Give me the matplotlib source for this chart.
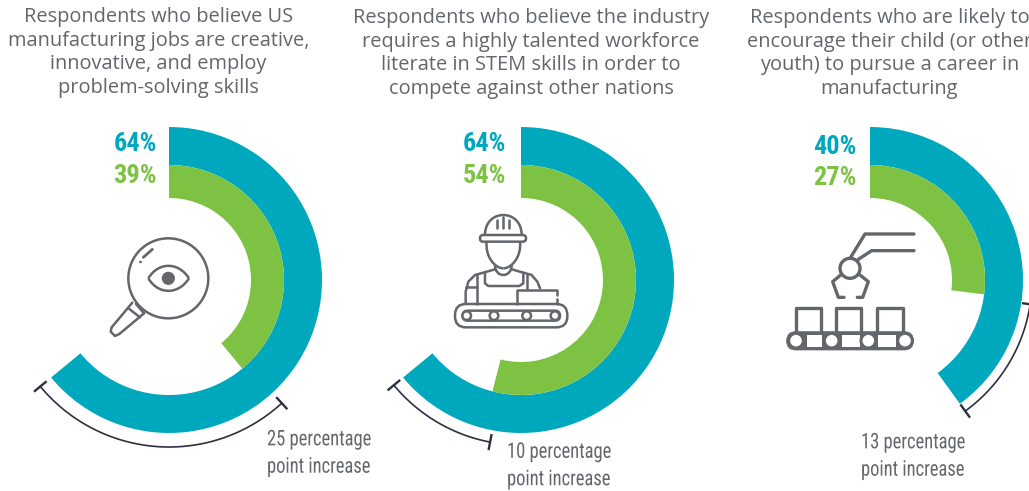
import numpy as np
import matplotlib
matplotlib.use("Agg")
import matplotlib.pyplot as plt
from matplotlib.patches import Circle, FancyBboxPatch, Rectangle, PathPatch
from matplotlib.patheffects import AbstractPathEffect
from matplotlib.path import Path
from matplotlib.transforms import Affine2D

W, H = 1029, 491
titles = [
    "Respondents who believe US\nmanufacturing jobs are creative,\ninnovative, and employ\nproblem-solving skills",
    "Respondents who believe the industry\nrequires a highly talented workforce\nliterate in STEM skills in order to\ncompete against other nations",
    "Respondents who are likely to\nencourage their child (or other\nyouth) to pursue a career in\nmanufacturing",
]
teal_values = [64, 64, 40]
green_values = [39, 54, 27]
bracket_start = [38.2, 53, 27.4]
increase_labels = ["25 percentage\npoint increase", "10 percentage\npoint increase", "13 percentage\npoint increase"]

TEAL, GREEN, GREY, NAVY = "#00a8bd", "#7dc242", "#63666a", "#2c3040"
centers_x = [169, 521, 870]
cy = 280
title_x = [158.5, 531, 889.5]
title_y = [52.5, 53.5, 53.5]
pct_x = [157, 506, 857]
pct_y = [(144, 176), (144, 176), (147, 178)]
inc_xy = [(267, 453.5), (507, 466), (861, 456.5)]
bracket_r = [167, 165, 162]
EXT = 175


class Squeeze(AbstractPathEffect):
    """Narrows a real text horizontally about a pixel column, for a condensed face."""
    def __init__(self, x0, sx):
        super().__init__()
        self.x0, self.sx = x0, sx

    def draw_path(self, renderer, gc, tpath, affine, rgbFace=None):
        t = affine + Affine2D().translate(-self.x0, 0).scale(self.sx, 1).translate(self.x0, 0)
        renderer.draw_path(gc, tpath, t, rgbFace)


fig = plt.figure(figsize=(W / 100, H / 100), dpi=100, facecolor="white")
ax0 = fig.add_axes([0, 0, 1, 1])
ax0.set_xlim(0, W); ax0.set_ylim(H, 0); ax0.axis("off")

OPEN = ["Open Sans", "DejaVu Sans"]
NARROW = ["Roboto Condensed", "DejaVu Sans"]

for i, cx in enumerate(centers_x):
    ax = fig.add_axes([(cx - EXT) / W, 1 - (cy + EXT) / H, 2 * EXT / W, 2 * EXT / H],
                      projection="polar")
    ax.set_theta_zero_location("N"); ax.set_theta_direction(-1)
    ax.patch.set_visible(False); ax.axis("off")
    ax.set_ylim(0, EXT)
    ax.bar([0], [38], width=[np.deg2rad(teal_values[i] * 3.6)], bottom=115, align="edge",
           color=TEAL, linewidth=0)
    ax.bar([0], [33], width=[np.deg2rad(green_values[i] * 3.6)], bottom=82, align="edge",
           color=GREEN, linewidth=0)
    th0 = np.deg2rad(bracket_start[i] * 3.6)
    th1 = np.deg2rad(teal_values[i] * 3.6)
    r = bracket_r[i]
    ths = np.linspace(th0, th1, 120)
    ax.plot(ths, np.full_like(ths, r), color=NAVY, lw=1.2, clip_on=False)
    for t in (th0, th1):
        ax.plot([t, t], [r - 7, r + 7], color=NAVY, lw=1.7, clip_on=False)

    ax0.text(title_x[i], title_y[i], titles[i], ha="center", va="center", multialignment="center",
             fontsize=14.45, color=GREY, family=OPEN, linespacing=1.25, zorder=5)
    ax0.text(pct_x[i], pct_y[i][0], f"{teal_values[i]}%", ha="right", va="center", fontsize=19,
             fontweight="bold", color=TEAL, family=NARROW, zorder=5)
    ax0.text(pct_x[i], pct_y[i][1], f"{green_values[i]}%", ha="right", va="center", fontsize=19,
             fontweight="bold", color=GREEN, family=NARROW, zorder=5)
    ax0.text(inc_xy[i][0], inc_xy[i][1], increase_labels[i], ha="left", va="center", fontsize=15.5,
             fontweight=400, color=GREY, family=NARROW, linespacing=1.4, zorder=5,
             path_effects=[Squeeze(inc_xy[i][0], 0.86)])

IC = "#63666a"
def zp(off, pts):
    return [(off[0] + x / 3, off[1] + y / 3) for x, y in pts]
def line(off, pts, lw=1.8):
    p = zp(off, pts)
    ax0.plot(*zip(*p), color=IC, lw=lw, solid_capstyle="round", solid_joinstyle="round", zorder=3)
def circ(off, c, r, lw=1.8, fill="white", z=4):
    x, y = zp(off, [c])[0]
    ax0.add_patch(Circle((x, y), r / 3, fc=fill, ec=IC, lw=lw, zorder=z))
def curve(off, pts, lw=1.8):
    p = zp(off, pts)
    codes = [Path.MOVETO] + [Path.CURVE4] * (len(p) - 1)
    ax0.add_patch(PathPatch(Path(p, codes), fc="none", ec=IC, lw=lw, zorder=3))
def rrect(off, x0, y0, x1, y1, rad, lw=1.8, fc="none", z=3):
    (a, b), (c, d) = zp(off, [(x0, y0), (x1, y1)])
    ax0.add_patch(FancyBboxPatch((a + rad, b + rad), c - a - 2 * rad, d - b - 2 * rad,
                                 boxstyle=f"round,pad={rad},rounding_size={rad}",
                                 fc=fc, ec=IC, lw=lw, zorder=z))

# magnifier icon
o = (90, 210)
circ(o, (235, 205), 120, fill="none", z=3)
curve(o, [(175, 205), (205, 155), (265, 155), (297, 205)])
curve(o, [(175, 205), (205, 255), (265, 255), (297, 205)])
circ(o, (235, 205), 16, fill=IC)
line(o, [(160, 142), (187, 118)], lw=2.0)
line(o, [(151, 155), (152, 155)], lw=1.6)
line(o, [(127, 278), (65, 352), (62, 365), (75, 378), (88, 372), (162, 310)])
line(o, [(118, 297), (150, 322)])
line(o, [(138, 282), (162, 310)])

# worker icon
o = (440, 200)
curve(o, [(135, 105), (135, 25), (245, 25), (245, 105)])
rrect(o, 120, 105, 258, 125, 3, z=3)
line(o, [(172, 60), (172, 85)]); line(o, [(190, 50), (190, 85)]); line(o, [(208, 60), (208, 85)])
curve(o, [(140, 125), (135, 170), (165, 205), (190, 205)])
curve(o, [(240, 125), (245, 170), (215, 205), (190, 205)])
curve(o, [(165, 195), (165, 235), (215, 235), (215, 195)])
line(o, [(165, 208), (105, 225), (85, 245), (77, 275), (77, 312)])
line(o, [(215, 208), (275, 225), (292, 245), (300, 265)])
line(o, [(110, 225), (110, 312)])
line(o, [(135, 218), (135, 250), (145, 258), (238, 258), (250, 250), (250, 218)])
line(o, [(77, 262), (110, 262)])
line(o, [(262, 225), (262, 268)])
line(o, [(230, 312), (230, 270), (350, 270), (350, 285)])
line(o, [(350, 298), (350, 312)])
rrect(o, 45, 312, 382, 382, 11)
rrect(o, 68, 332, 360, 362, 5)
for xc in (80, 162, 260, 345):
    circ(o, (xc, 347), 13)

# robot arm icon
o = (770, 220)
LW = 2.4
line(o, [(432, 42), (285, 42), (240, 115)], lw=LW)
line(o, [(432, 92), (305, 92), (265, 118)], lw=LW)
line(o, [(212, 165), (188, 185), (205, 232), (222, 232)], lw=LW)
line(o, [(270, 165), (295, 185), (278, 232), (262, 232)], lw=LW)
circ(o, (240, 145), 30, lw=LW)
for x0, x1 in ((78, 152), (198, 272), (322, 398)):
    line(o, [(x0, 335), (x0, 265), (x1, 265), (x1, 335)], lw=LW)
rrect(o, 50, 335, 430, 390, 9, lw=0.5, fc=IC, z=3)
for x0, x1 in ((110, 155), (215, 270), (325, 378)):
    (a, b), (c, d) = zp(o, [(x0, 345), (x1, 382)])
    ax0.add_patch(Rectangle((a, b), c - a, d - b, fc="white", ec="none", zorder=3.5))
for xc in (78, 185, 295, 405):
    circ(o, (xc, 362), 22, lw=2.2)

fig.savefig("out.png", dpi=100, facecolor="white")
